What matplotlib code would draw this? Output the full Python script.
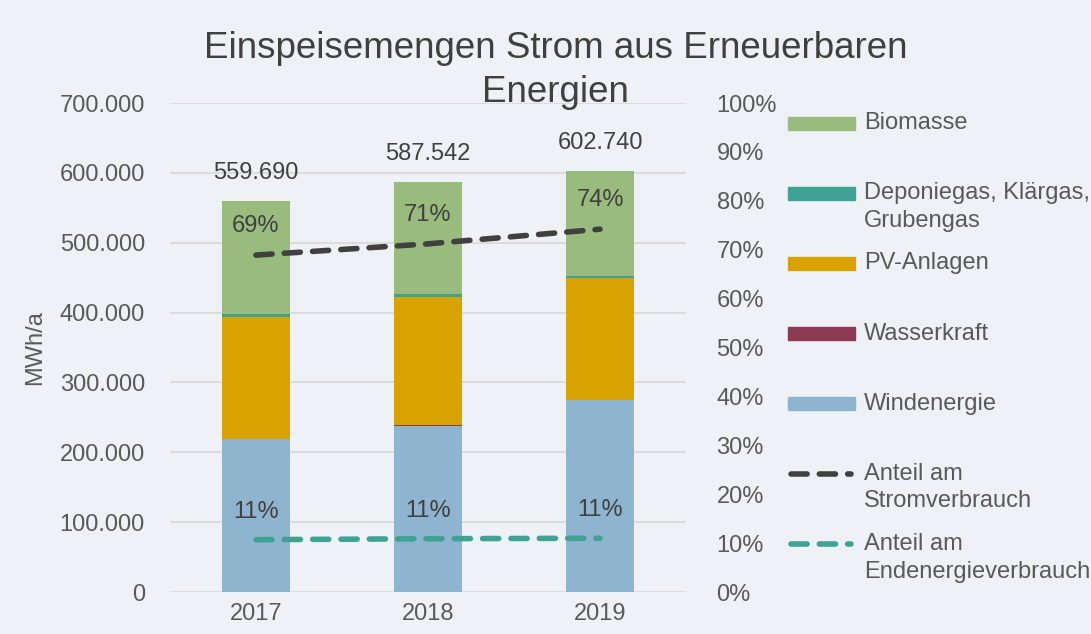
import matplotlib.pyplot as plt
import matplotlib.patches as mpatches
from matplotlib.lines import Line2D

plt.rcParams['font.family'] = ['Liberation Sans', 'DejaVu Sans']

jahre = ['2017', '2018', '2019']
windenergie = [218900, 237500, 274700]
wasserkraft = [600, 900, 500]
pv_anlagen = [173900, 183600, 174000]
deponiegas = [4000, 4300, 3900]
gesamt = [559690, 587542, 602740]
biomasse = [g - w - wa - pv - d for g, w, wa, pv, d in
            zip(gesamt, windenergie, wasserkraft, pv_anlagen, deponiegas)]
anteil_strom = [0.689, 0.712, 0.742]
anteil_end = [0.107, 0.109, 0.110]
anteil_strom_txt = ['69%', '71%', '74%']
anteil_end_txt = ['11%', '11%', '11%']

bg = '#eef2f6'
txt = '#595959'
dunkel = '#404040'
c_bio = '#99bb7e'
c_dep = '#3fa394'
c_pv = '#d8a300'
c_was = '#8b3a52'
c_wind = '#8eb4cf'
c_l1 = '#404040'
c_l2 = '#3fa394'
fs = 17

fig = plt.figure(figsize=(10.91, 6.34), dpi=100, facecolor=bg)
ax = fig.add_axes([0.1558, 0.0662, 0.4730, 0.7713], facecolor=bg)
ax2 = ax.twinx()

x = list(range(len(jahre)))
w = 0.4
bottom = [0] * 3
for vals, col in [(windenergie, c_wind), (wasserkraft, c_was), (pv_anlagen, c_pv),
                  (deponiegas, c_dep), (biomasse, c_bio)]:
    ax.bar(x, vals, w, bottom=bottom, color=col, zorder=2)
    bottom = [b + v for b, v in zip(bottom, vals)]

for xi, g in zip(x, gesamt):
    ax.annotate(f'{g:,.0f}'.replace(',', '.'), (xi, g), xytext=(0, 20),
                textcoords='offset points', ha='center', va='center',
                fontsize=fs, color=dunkel)

ax.set_ylim(0, 700000)
ax.set_xlim(-0.5, 2.5)
ax.set_yticks(range(0, 700001, 100000))
ax.set_yticklabels([f'{v:,.0f}'.replace(',', '.') for v in range(0, 700001, 100000)])
ax.set_xticks(x)
ax.set_xticklabels(jahre)
ax.yaxis.grid(True, color='#dcdcdc', linewidth=1.5, zorder=0)
ax.set_axisbelow(True)
ax.tick_params(length=0, labelsize=fs, colors=txt, pad=18)
ax.tick_params(axis='x', pad=8)
ax.set_ylabel('MWh/a', fontsize=fs, color=txt, labelpad=10)
for s in ax.spines.values():
    s.set_visible(False)

dash = dict(linestyle=(0, (2.9, 2.2)), linewidth=4, dash_capstyle='round')
ax2.plot(x, anteil_strom, color=c_l1, **dash)
ax2.plot(x, anteil_end, color=c_l2, **dash)
for xi, v, t in zip(x, anteil_strom, anteil_strom_txt):
    ax2.annotate(t, (xi, v), xytext=(0, 21), textcoords='offset points',
                 ha='center', va='center', fontsize=fs, color=dunkel)
for xi, v, t in zip(x, anteil_end, anteil_end_txt):
    ax2.annotate(t, (xi, v), xytext=(0, 20), textcoords='offset points',
                 ha='center', va='center', fontsize=fs, color=dunkel)
ax2.set_ylim(0, 1)
ax2.set_yticks([i / 10 for i in range(11)])
ax2.set_yticklabels([f'{i * 10}%' for i in range(11)])
ax2.tick_params(length=0, labelsize=fs, colors=txt, pad=22)
for s in ax2.spines.values():
    s.set_visible(False)

fig.text(0.509, 1 - 48 / 634, 'Einspeisemengen Strom aus Erneuerbaren',
         ha='center', va='center', fontsize=26.5, color=dunkel)
fig.text(0.509, 1 - 92 / 634, 'Energien',
         ha='center', va='center', fontsize=26.5, color=dunkel)

# Legende
eintraege = [
    ('patch', c_bio, 'Biomasse'),
    ('patch', c_dep, 'Deponiegas, Klärgas,\nGrubengas'),
    ('patch', c_pv, 'PV-Anlagen'),
    ('patch', c_was, 'Wasserkraft'),
    ('patch', c_wind, 'Windenergie'),
    ('line', c_l1, 'Anteil am\nStromverbrauch'),
    ('line', c_l2, 'Anteil am\nEndenergieverbrauch'),
]
W, H = 1091, 634
for i, (art, col, lab) in enumerate(eintraege):
    ypix = 123 + 70.2 * i
    yf = 1 - ypix / H
    if art == 'patch':
        fig.add_artist(mpatches.Rectangle((788 / W, yf - 6.5 / H), 67 / W, 13 / H,
                                          color=col, transform=fig.transFigure))
    else:
        fig.add_artist(Line2D([791 / W, 851 / W], [yf, yf], color=col,
                              transform=fig.transFigure, **dash))
    fig.text(864 / W, yf + 11 / H, lab, ha='left', va='top', fontsize=fs,
             color=txt, linespacing=1.32)

fig.savefig('out.png', dpi=100, facecolor=bg)
